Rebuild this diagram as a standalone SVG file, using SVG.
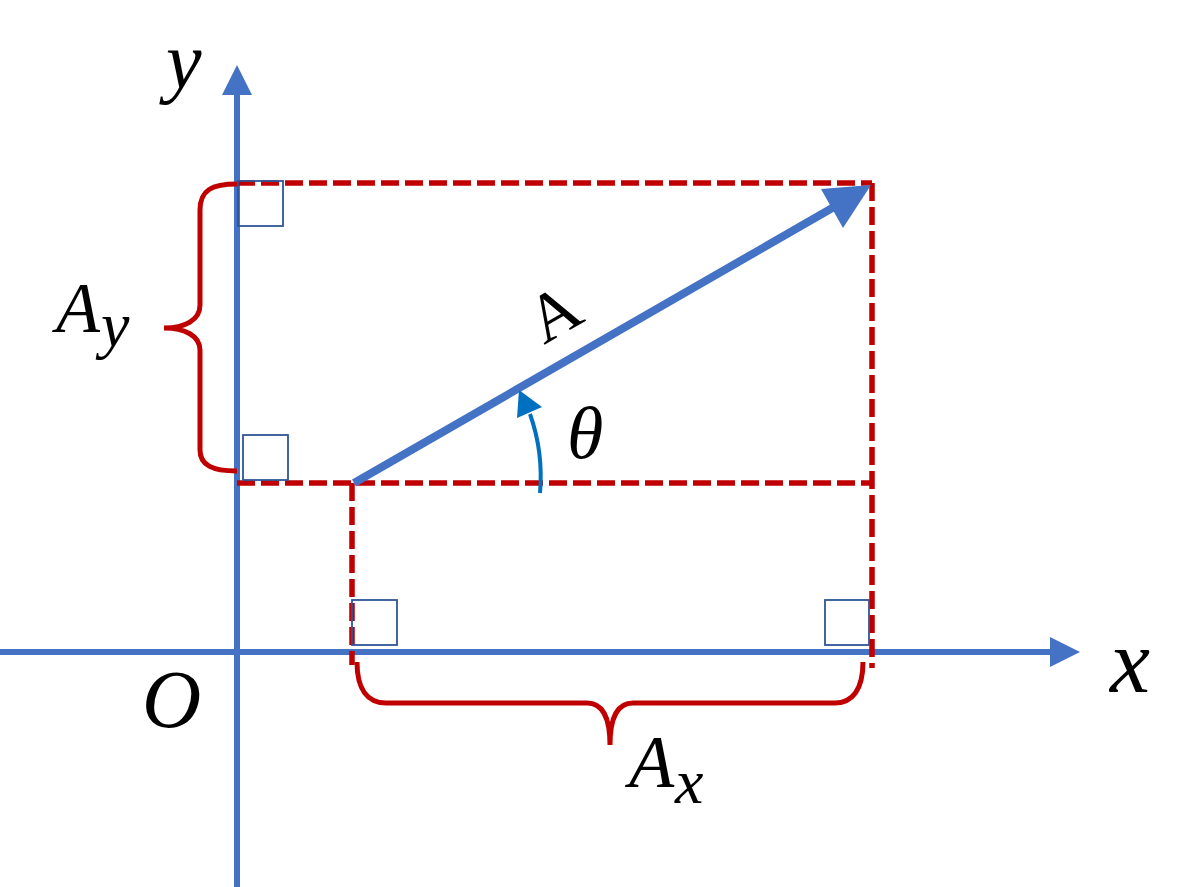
<svg xmlns="http://www.w3.org/2000/svg" width="1181" height="887" viewBox="0 0 1181 887">
<style>
.axis{stroke:#4472C4;stroke-width:6;fill:none}
.axhead{fill:#4472C4}
.dash{stroke:#C00000;stroke-width:5.5;fill:none;stroke-dasharray:18 6}
.brace{stroke:#C00000;stroke-width:5;fill:none;stroke-linecap:butt}
.sq{stroke:#2F5597;stroke-width:1.8;fill:none}
.lbl{font-family:"Liberation Serif","DejaVu Serif",serif;font-style:italic;fill:#000}
.up{font-family:"Liberation Serif","DejaVu Serif",serif;fill:#000}
</style>
<rect width="1181" height="887" fill="#fff"/>
<g id="axes">
<line class="axis" x1="237" y1="887" x2="237" y2="92"/>
<polygon class="axhead" points="237,65 222,95 252,95"/>
<line class="axis" x1="0" y1="652" x2="1052" y2="652"/>
<polygon class="axhead" points="1080,652 1050,637 1050,667"/>
</g>
<g id="connectors">
<path class="dash" d="M237,183 H872"/>
<path class="dash" d="M872,183 V668"/>
<path class="dash" d="M237,483 H872"/>
<path class="dash" d="M352,483 V665"/>
<path class="brace" d="M237,184 C212,184 200,190 200,210 V305 C200,320 185,328 164,328 C185,328 200,336 200,350 V450 C200,465 212,471 237,471"/>
<path class="brace" d="M357,662 C357,690 368,703 386,703 H587 C603,703 610,718 610,745 C610,718 617,703 633,703 H835 C852,703 863,690 863,662"/>
</g>
<g id="squares">
<rect class="sq" x="238" y="181" width="45" height="45"/>
<rect class="sq" x="243" y="435" width="45" height="45"/>
<rect class="sq" x="352" y="600" width="45" height="45"/>
<rect class="sq" x="825" y="600" width="44" height="45"/>
</g>
<g id="vector">
<line x1="354" y1="483" x2="834" y2="207" stroke="#4472C4" stroke-width="8"/>
<polygon points="871,185 821,189 843,228" fill="#4472C4"/>
</g>
<g id="angle">
<path d="M540,493 A188,188 0 0 0 530,414" stroke="#0070C0" stroke-width="4" fill="none"/>
<polygon points="519,390 517,418 542,407" fill="#0070C0"/>
</g>
<g id="labels">
<text class="lbl" x="166" y="88" font-size="80">y</text>
<text class="lbl" x="1110" y="692" font-size="90">x</text>
<text class="lbl" x="142" y="727" font-size="82">O</text>
<text class="lbl" x="56" y="332" font-size="72">A<tspan font-size="64" x="101" y="346">y</tspan></text>
<text class="lbl" x="629" y="787" font-size="74">A<tspan font-size="64" x="675" y="803">x</tspan></text>
<text class="up" x="544" y="345" font-size="68" transform="rotate(-30 544 345)">A</text>
<text class="lbl" x="567" y="458" font-size="74">θ</text>
</g>
</svg>
